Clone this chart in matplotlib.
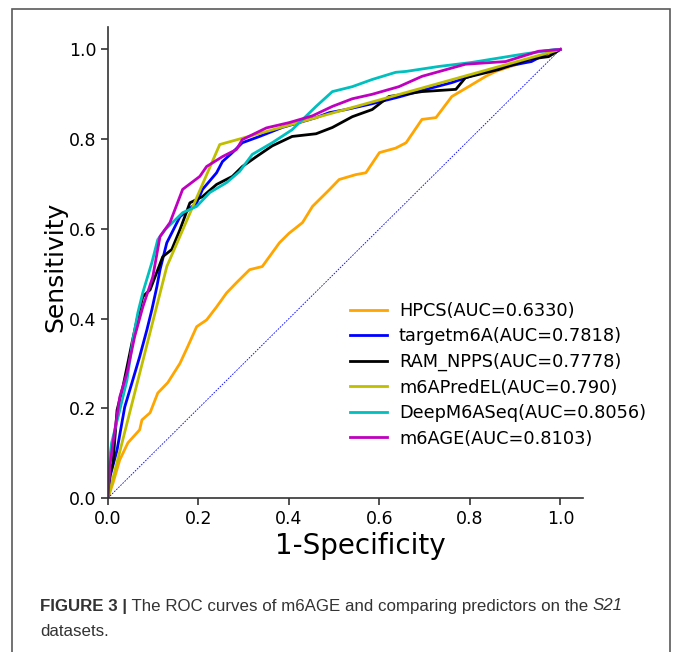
import matplotlib
matplotlib.use("Agg")
import matplotlib.pyplot as plt
from matplotlib.patches import Rectangle

plt.rcParams["font.family"] = ["DejaVu Sans"]

# ROC points (FPR, TPR)
hpcs_x = [0, 0.011, 0.026, 0.044, 0.07, 0.075, 0.093, 0.11, 0.132, 0.159, 0.176, 0.196, 0.218,
          0.24, 0.262, 0.284, 0.313, 0.341, 0.379, 0.40, 0.43, 0.452, 0.489, 0.511, 0.548, 0.57,
          0.60, 0.636, 0.659, 0.694, 0.725, 0.76, 0.797, 0.835, 0.857, 0.923, 0.974, 1.0]
hpcs_y = [0, 0.033, 0.085, 0.123, 0.152, 0.174, 0.19, 0.234, 0.257, 0.30, 0.337, 0.382, 0.397,
          0.426, 0.457, 0.48, 0.509, 0.516, 0.569, 0.59, 0.614, 0.65, 0.687, 0.71, 0.721, 0.725,
          0.77, 0.78, 0.792, 0.844, 0.848, 0.895, 0.917, 0.94, 0.951, 0.973, 0.989, 1.0]

target_x = [0, 0.005, 0.02, 0.037, 0.053, 0.07, 0.086, 0.097, 0.108, 0.115, 0.13, 0.159, 0.196,
            0.209, 0.24, 0.253, 0.275, 0.297, 0.335, 0.385, 0.423, 0.46, 0.489, 0.526, 0.584,
            0.643, 0.703, 0.76, 0.826, 0.879, 0.936, 0.974, 1.0]
target_y = [0, 0.05, 0.107, 0.203, 0.257, 0.315, 0.375, 0.42, 0.471, 0.509, 0.569, 0.627, 0.658,
            0.688, 0.725, 0.75, 0.77, 0.792, 0.806, 0.826, 0.837, 0.848, 0.859, 0.866, 0.879,
            0.894, 0.911, 0.926, 0.949, 0.962, 0.973, 0.993, 1.0]

ram_x = [0, 0.004, 0.011, 0.02, 0.033, 0.053, 0.064, 0.077, 0.093, 0.104, 0.121, 0.141, 0.159,
         0.181, 0.209, 0.24, 0.275, 0.297, 0.328, 0.363, 0.407, 0.46, 0.496, 0.54, 0.584, 0.621,
         0.694, 0.769, 0.79, 0.863, 0.93, 0.974, 1.0]
ram_y = [0, 0.05, 0.078, 0.196, 0.248, 0.346, 0.397, 0.449, 0.464, 0.493, 0.538, 0.554, 0.598,
         0.658, 0.672, 0.699, 0.717, 0.739, 0.761, 0.785, 0.806, 0.812, 0.826, 0.85, 0.866, 0.895,
         0.906, 0.911, 0.937, 0.955, 0.978, 0.984, 1.0]

pred_x = [0, 0.13, 0.247, 1.0]
pred_y = [0, 0.516, 0.788, 1.0]

deep_x = [0, 0.004, 0.008, 0.026, 0.042, 0.055, 0.066, 0.077, 0.097, 0.11, 0.126, 0.165, 0.196,
          0.225, 0.262, 0.291, 0.319, 0.363, 0.407, 0.46, 0.496, 0.54, 0.584, 0.636, 0.659, 0.731,
          0.804, 0.914, 0.989, 1.0]
deep_y = [0, 0.09, 0.123, 0.196, 0.263, 0.353, 0.413, 0.458, 0.525, 0.576, 0.598, 0.636, 0.65,
          0.681, 0.703, 0.728, 0.766, 0.792, 0.821, 0.873, 0.906, 0.917, 0.933, 0.949, 0.951,
          0.962, 0.971, 0.989, 1.0, 1.0]

age_x = [0, 0.004, 0.011, 0.026, 0.042, 0.059, 0.077, 0.099, 0.115, 0.137, 0.165, 0.203, 0.218,
         0.253, 0.284, 0.297, 0.35, 0.401, 0.452, 0.496, 0.54, 0.584, 0.643, 0.694, 0.79, 0.879,
         0.952, 1.0]
age_y = [0, 0.07, 0.123, 0.225, 0.279, 0.36, 0.426, 0.493, 0.583, 0.614, 0.688, 0.717, 0.739,
         0.761, 0.777, 0.799, 0.825, 0.837, 0.852, 0.873, 0.89, 0.9, 0.917, 0.94, 0.967, 0.973,
         0.996, 1.0]

names = ["HPCS(AUC=0.6330)", "targetm6A(AUC=0.7818)", "RAM_NPPS(AUC=0.7778)",
         "m6APredEL(AUC=0.790)", "DeepM6ASeq(AUC=0.8056)", "m6AGE(AUC=0.8103)"]
colors = ["orange", "b", "k", "y", "c", "m"]
curves = [(hpcs_x, hpcs_y), (target_x, target_y), (ram_x, ram_y),
          (pred_x, pred_y), (deep_x, deep_y), (age_x, age_y)]

W, H = 673, 652
fig = plt.figure(figsize=(W / 100, H / 100), dpi=100)
fig.patch.set_facecolor("white")

# outer frame of the figure panel
frame = Rectangle((12 / W, -0.05), 658 / W, (H - 9) / H + 0.05, transform=fig.transFigure,
                  fill=False, edgecolor="#5a5a5a", linewidth=1.2)
fig.add_artist(frame)

ax = fig.add_axes([108 / W, 154 / H, 475 / W, 471 / H])
for (xs, ys), c, n in zip(curves, colors, names):
    ax.plot(xs, ys, color=c, lw=2.0, label=n)
ax.plot([0, 1], [0, 1], color="b", lw=0.6, ls="--", dashes=(2, 1.5))

ax.set_xlim(0, 1.05)
ax.set_ylim(0, 1.05)
ax.set_xticks([0, 0.2, 0.4, 0.6, 0.8, 1.0])
ax.set_yticks([0, 0.2, 0.4, 0.6, 0.8, 1.0])
ax.tick_params(labelsize=12.5, width=1.2, length=5, color="#333333")
for s in ["top", "right"]:
    ax.spines[s].set_visible(False)
for s in ["left", "bottom"]:
    ax.spines[s].set_linewidth(1.2)
    ax.spines[s].set_color("#333333")
ax.set_xlabel("1-Specificity", fontsize=20, va="center")
ax.set_ylabel("Sensitivity", fontsize=18, va="center")
ax.xaxis.set_label_coords((360 - 108) / 475, (498 - 546) / 471)
ax.yaxis.set_label_coords((55 - 108) / 475, (498 - 267) / 471)
ax.legend(loc="upper left", bbox_to_anchor=((350 - 108) / 475, (498 - 302) / 471),
          frameon=False, fontsize=12.8, borderpad=0, borderaxespad=0,
          handlelength=2.1, handletextpad=0.65, labelspacing=0.42)

# caption, built from pieces so bold / italic can be mixed
fam = ["Liberation Sans Narrow", "Liberation Sans", "DejaVu Sans"]
renderer = fig.canvas.get_renderer()
y1 = 1 - 606 / H
y2 = 1 - 632 / H
x = 40 / W
parts = [("FIGURE 3 |", "bold", "normal"),
         (" The ROC curves of m6AGE and comparing predictors on the ", "normal", "normal"),
         ("S21", "normal", "italic")]
for txt, wt, st in parts:
    t = fig.text(x, y1, txt, fontsize=12.2, family=fam, weight=wt, style=st,
                 color="#333333", va="center", ha="left")
    bb = t.get_window_extent(renderer=renderer)
    x = x + bb.width / W
fig.text(40 / W, y2, "datasets.", fontsize=12.2, family=fam, color="#333333",
         va="center", ha="left")

fig.savefig("out.png", dpi=100, facecolor="white")
